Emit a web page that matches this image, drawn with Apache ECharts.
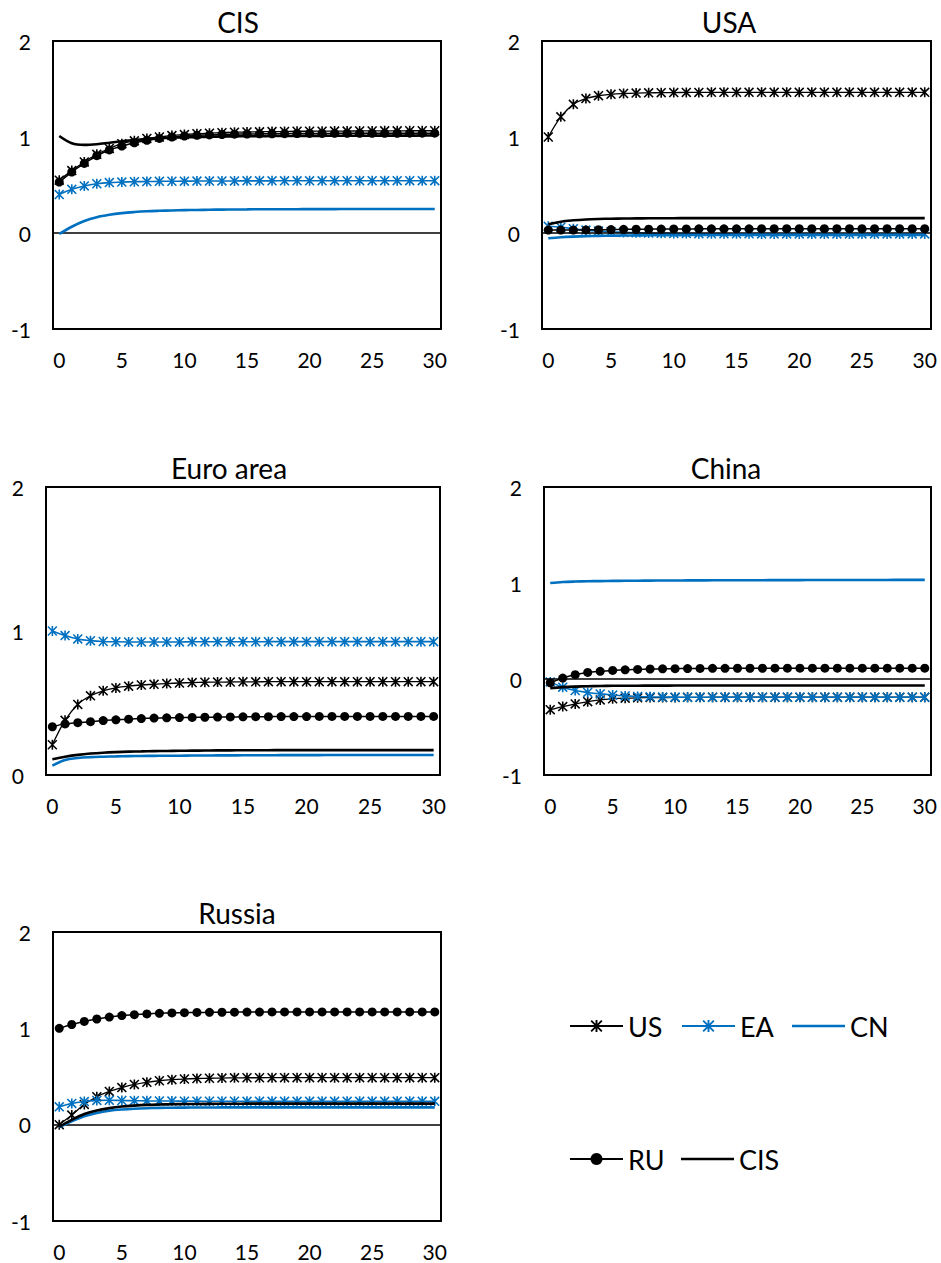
<!DOCTYPE html>
<html>
<head>
<meta charset="utf-8">
<script src="https://cdn.jsdelivr.net/npm/echarts@6/dist/echarts.min.js"></script>
<style>
  html, body { margin: 0; padding: 0; background: #fff; }
  #chart { width: 941px; height: 1263px; }
</style>
</head>
<body>
<div id="chart"></div>
<script>
// Horizons 0..30
const periods = ['0','1','2','3','4','5','6','7','8','9',
                 '10','11','12','13','14','15','16','17','18','19',
                 '20','21','22','23','24','25','26','27','28','29','30'];

// Responses in the CIS panel
const cisUS = [0.55, 0.65, 0.74, 0.82, 0.88, 0.93, 0.96, 0.985, 1.0, 1.015,
               1.025, 1.035, 1.04, 1.045, 1.05, 1.052, 1.054, 1.056, 1.058, 1.06,
               1.06, 1.061, 1.062, 1.062, 1.063, 1.063, 1.064, 1.064, 1.065, 1.065, 1.065];
const cisEA = [0.40, 0.455, 0.49, 0.513, 0.525, 0.53, 0.534, 0.536, 0.538, 0.539,
               0.54, 0.541, 0.541, 0.542, 0.542, 0.543, 0.543, 0.543, 0.544, 0.544,
               0.544, 0.544, 0.545, 0.545, 0.545, 0.545, 0.545, 0.545, 0.545, 0.545, 0.545];
const cisCN = [-0.01, 0.065, 0.125, 0.165, 0.19, 0.207, 0.218, 0.226, 0.231, 0.235,
               0.238, 0.24, 0.242, 0.244, 0.245, 0.246, 0.247, 0.247, 0.248, 0.248,
               0.249, 0.249, 0.249, 0.25, 0.25, 0.25, 0.25, 0.25, 0.25, 0.25, 0.25];
const cisRU = [0.53, 0.635, 0.725, 0.805, 0.865, 0.905, 0.94, 0.965, 0.985, 1.0,
               1.01, 1.017, 1.022, 1.026, 1.029, 1.031, 1.033, 1.034, 1.035, 1.036,
               1.037, 1.037, 1.038, 1.038, 1.038, 1.039, 1.039, 1.039, 1.04, 1.04, 1.04];
const cisCIS = [1.01, 0.935, 0.918, 0.925, 0.94, 0.955, 0.968, 0.978, 0.986, 0.992,
                0.997, 1.0, 1.003, 1.005, 1.007, 1.008, 1.009, 1.01, 1.011, 1.011,
                1.012, 1.012, 1.013, 1.013, 1.013, 1.014, 1.014, 1.014, 1.014, 1.015, 1.015];

// Responses in the USA panel
const usaUS = [1.0, 1.21, 1.34, 1.40, 1.43, 1.445, 1.453, 1.458, 1.46, 1.462,
               1.463, 1.464, 1.464, 1.465, 1.465, 1.465, 1.465, 1.465, 1.465, 1.465,
               1.465, 1.465, 1.465, 1.465, 1.465, 1.465, 1.465, 1.465, 1.465, 1.465, 1.465];
const usaEA = [0.07, 0.06, 0.045, 0.03, 0.02, 0.012, 0.006, 0.002, -0.001, -0.003,
               -0.005, -0.006, -0.007, -0.008, -0.008, -0.009, -0.009, -0.01, -0.01, -0.01,
               -0.01, -0.01, -0.01, -0.01, -0.01, -0.01, -0.01, -0.01, -0.01, -0.01, -0.01];
const usaCN = [-0.055, -0.045, -0.038, -0.033, -0.03, -0.028, -0.026, -0.025, -0.024, -0.023,
               -0.022, -0.022, -0.021, -0.021, -0.021, -0.02, -0.02, -0.02, -0.02, -0.02,
               -0.02, -0.02, -0.02, -0.02, -0.02, -0.02, -0.02, -0.02, -0.02, -0.02, -0.02];
const usaRU = [0.03, 0.03, 0.031, 0.032, 0.034, 0.036, 0.038, 0.039, 0.04, 0.041,
               0.042, 0.042, 0.043, 0.043, 0.044, 0.044, 0.044, 0.045, 0.045, 0.045,
               0.045, 0.045, 0.045, 0.045, 0.045, 0.045, 0.045, 0.045, 0.045, 0.045, 0.045];
const usaCIS = [0.09, 0.118, 0.132, 0.141, 0.146, 0.149, 0.151, 0.152, 0.153, 0.154,
                0.154, 0.155, 0.155, 0.155, 0.155, 0.155, 0.155, 0.155, 0.155, 0.155,
                0.155, 0.155, 0.155, 0.155, 0.155, 0.155, 0.155, 0.155, 0.155, 0.155, 0.155];

// Responses in the Euro area panel
const eaUS = [0.21, 0.38, 0.49, 0.55, 0.585, 0.605, 0.617, 0.625, 0.63, 0.635,
              0.639, 0.642, 0.644, 0.645, 0.646, 0.647, 0.647, 0.648, 0.648, 0.648,
              0.648, 0.648, 0.648, 0.648, 0.648, 0.648, 0.648, 0.648, 0.648, 0.648, 0.648];
const eaEA = [1.0, 0.968, 0.945, 0.933, 0.927, 0.925, 0.924, 0.924, 0.924, 0.924,
              0.924, 0.925, 0.925, 0.925, 0.925, 0.925, 0.925, 0.926, 0.926, 0.926,
              0.926, 0.926, 0.926, 0.926, 0.926, 0.926, 0.926, 0.926, 0.926, 0.926, 0.926];
const eaCN = [0.065, 0.104, 0.118, 0.124, 0.127, 0.129, 0.131, 0.132, 0.133, 0.134,
              0.134, 0.135, 0.135, 0.136, 0.136, 0.137, 0.137, 0.137, 0.138, 0.138,
              0.138, 0.138, 0.139, 0.139, 0.139, 0.139, 0.139, 0.139, 0.139, 0.139, 0.139];
const eaRU = [0.335, 0.355, 0.363, 0.37, 0.378, 0.383, 0.388, 0.392, 0.395, 0.397,
              0.399, 0.4, 0.401, 0.402, 0.403, 0.404, 0.405, 0.405, 0.406, 0.406,
              0.406, 0.407, 0.407, 0.407, 0.407, 0.407, 0.407, 0.407, 0.407, 0.407, 0.407];
const eaCIS = [0.11, 0.127, 0.14, 0.149, 0.155, 0.159, 0.162, 0.164, 0.166, 0.167,
               0.168, 0.169, 0.17, 0.171, 0.171, 0.172, 0.172, 0.172, 0.173, 0.173,
               0.173, 0.173, 0.173, 0.173, 0.173, 0.173, 0.173, 0.173, 0.173, 0.173, 0.173];

// Responses in the China panel
const cnUS = [-0.32, -0.287, -0.26, -0.236, -0.218, -0.207, -0.2, -0.196, -0.194, -0.193,
              -0.192, -0.191, -0.191, -0.19, -0.19, -0.19, -0.19, -0.19, -0.19, -0.19,
              -0.19, -0.19, -0.19, -0.19, -0.19, -0.19, -0.19, -0.19, -0.19, -0.19, -0.19];
const cnEA = [-0.03, -0.085, -0.12, -0.14, -0.155, -0.167, -0.176, -0.182, -0.186, -0.188,
              -0.189, -0.19, -0.19, -0.19, -0.19, -0.19, -0.19, -0.19, -0.19, -0.19,
              -0.19, -0.19, -0.19, -0.19, -0.19, -0.19, -0.19, -0.19, -0.19, -0.19, -0.19];
const cnCN = [1.0, 1.01, 1.015, 1.018, 1.02, 1.022, 1.023, 1.024, 1.025, 1.026,
              1.026, 1.027, 1.027, 1.028, 1.028, 1.029, 1.029, 1.029, 1.03, 1.03,
              1.03, 1.031, 1.031, 1.031, 1.032, 1.032, 1.032, 1.032, 1.033, 1.033, 1.033];
const cnRU = [-0.04, 0.01, 0.045, 0.068, 0.08, 0.089, 0.096, 0.1, 0.104, 0.106,
              0.108, 0.109, 0.11, 0.111, 0.111, 0.112, 0.112, 0.112, 0.113, 0.113,
              0.113, 0.113, 0.113, 0.113, 0.113, 0.113, 0.113, 0.113, 0.113, 0.113, 0.113];
const cnCIS = [-0.095, -0.085, -0.079, -0.075, -0.073, -0.071, -0.07, -0.07, -0.069, -0.069,
               -0.068, -0.068, -0.068, -0.068, -0.068, -0.068, -0.068, -0.068, -0.068, -0.068,
               -0.068, -0.068, -0.068, -0.068, -0.068, -0.068, -0.068, -0.068, -0.068, -0.068, -0.068];

// Responses in the Russia panel
const ruUS = [0.0, 0.1, 0.21, 0.29, 0.345, 0.385, 0.418, 0.44, 0.456, 0.467,
              0.474, 0.479, 0.482, 0.484, 0.486, 0.487, 0.487, 0.488, 0.488, 0.488,
              0.488, 0.488, 0.488, 0.488, 0.488, 0.488, 0.488, 0.488, 0.488, 0.488, 0.488];
const ruEA = [0.185, 0.22, 0.24, 0.252, 0.253, 0.251, 0.249, 0.247, 0.246, 0.245,
              0.244, 0.244, 0.243, 0.243, 0.243, 0.242, 0.242, 0.242, 0.242, 0.242,
              0.242, 0.242, 0.242, 0.242, 0.242, 0.242, 0.242, 0.242, 0.242, 0.242, 0.242];
const ruCN = [-0.025, 0.035, 0.088, 0.122, 0.145, 0.158, 0.166, 0.171, 0.174, 0.176,
              0.177, 0.178, 0.178, 0.179, 0.179, 0.179, 0.18, 0.18, 0.18, 0.18,
              0.18, 0.18, 0.18, 0.18, 0.18, 0.18, 0.18, 0.18, 0.18, 0.18, 0.18];
const ruRU = [1.0, 1.04, 1.072, 1.097, 1.117, 1.132, 1.142, 1.15, 1.156, 1.16,
              1.163, 1.165, 1.166, 1.167, 1.168, 1.169, 1.169, 1.17, 1.17, 1.17,
              1.17, 1.17, 1.17, 1.17, 1.17, 1.17, 1.17, 1.17, 1.17, 1.17, 1.17];
const ruCIS = [-0.02, 0.05, 0.11, 0.148, 0.172, 0.188, 0.198, 0.205, 0.209, 0.212,
               0.214, 0.215, 0.216, 0.217, 0.217, 0.218, 0.218, 0.218, 0.218, 0.218,
               0.218, 0.218, 0.218, 0.218, 0.218, 0.218, 0.218, 0.218, 0.218, 0.218, 0.218];

const seriesNames = ['US', 'EA', 'CN', 'RU', 'CIS'];
const panelTitles = ['CIS', 'USA', 'Euro area', 'China', 'Russia'];
const panelData = [
  [cisUS, cisEA, cisCN, cisRU, cisCIS],
  [usaUS, usaEA, usaCN, usaRU, usaCIS],
  [eaUS, eaEA, eaCN, eaRU, eaCIS],
  [cnUS, cnEA, cnCN, cnRU, cnCIS],
  [ruUS, ruEA, ruCN, ruRU, ruCIS]
];
const yRanges = [[-1, 2], [-1, 2], [0, 2], [-1, 2], [-1, 2]];

// ---- layout & styling ----
const FONT = 'Lato';
const BLUE = '#0070C0';
const grids = [
  { left: 53,  top: 41,  width: 388, height: 288 },
  { left: 542, top: 41,  width: 389, height: 288 },
  { left: 46,  top: 487, width: 394, height: 288 },
  { left: 544, top: 487, width: 387, height: 288 },
  { left: 53,  top: 932, width: 388, height: 289 }
];
const titlePos = [[238, 22], [729, 22], [229, 468], [726, 468], [237, 913]];

// six-armed star marker (vertical bar + two diagonals)
const STAR = 'path://M4.2 0L5.8 0L5.8 10L4.2 10Z M0 1.1L1.1 0L10 8.9L8.9 10Z M10 1.1L1.1 10L0 8.9L8.9 0Z';

const styles = {
  US:  { color: '#000', width: 1.3, symbol: STAR, size: 10 },
  EA:  { color: BLUE,   width: 1.6, symbol: STAR, size: 10 },
  CN:  { color: BLUE,   width: 2.6, symbol: 'none', size: 0 },
  RU:  { color: '#000', width: 1.5, symbol: 'circle', size: 9 },
  CIS: { color: '#000', width: 2.6, symbol: 'none', size: 0 }
};

const xAxes = [], yAxes = [], series = [], graphics = [];
grids.forEach((g, i) => {
  xAxes.push({
    type: 'category', gridIndex: i, data: periods, boundaryGap: true,
    axisLine: { show: false }, axisTick: { show: false }, splitLine: { show: false },
    axisLabel: { interval: 4, margin: 20, fontFamily: FONT, fontSize: 21, color: '#000' }
  });
  yAxes.push({
    type: 'value', gridIndex: i, min: yRanges[i][0], max: yRanges[i][1], interval: 1,
    axisLine: { show: false }, axisTick: { show: false }, splitLine: { show: false },
    axisLabel: { margin: 22, fontFamily: FONT, fontSize: 21, color: '#000' }
  });
  seriesNames.forEach((name, k) => {
    const st = styles[name];
    const hasMarker = st.symbol !== 'none';
    const s = {
      type: 'line', name, xAxisIndex: i, yAxisIndex: i,
      data: panelData[i][k], smooth: 0.35,
      symbol: st.symbol, symbolSize: st.size,
      showSymbol: hasMarker, showAllSymbol: true,
      lineStyle: { color: st.color, width: st.width },
      itemStyle: { color: st.color, borderWidth: 0 },
      emphasis: { disabled: true }, z: 3 + k
    };
    if (k === 0) {
      // horizontal axis line at zero
      s.markLine = {
        silent: true, symbol: 'none', label: { show: false }, animation: false,
        lineStyle: { color: '#000', width: 1.5, type: 'solid' },
        data: [{ yAxis: 0 }]
      };
    }
    series.push(s);
  });
  graphics.push({
    type: 'text', x: titlePos[i][0], y: titlePos[i][1],
    style: { text: panelTitles[i], fill: '#000', font: '28px ' + FONT,
             textAlign: 'center', textVerticalAlign: 'middle' }
  });
});

const legendText = { fontFamily: FONT, fontSize: 27, color: '#000', lineHeight: 30 };
// key entries: [name, left, top, plain line?]
const legendPlaces = [
  ['US', 569, 1011, false], ['EA', 681, 1011, false], ['CN', 792, 1011, true],
  ['RU', 569, 1144, false], ['CIS', 681, 1144, true]
];
const legends = legendPlaces.map(([n, l, t, plain]) => {
  const st = styles[n];
  return {
    orient: 'horizontal', padding: 0, itemGap: 0, itemWidth: 53,
    itemHeight: plain ? st.width : 15,
    selectedMode: false, left: l, top: t,
    textStyle: legendText,
    data: plain ? [{ name: n, icon: 'rect', itemStyle: { color: st.color } }] : [n]
  };
});

const chart = echarts.init(document.getElementById('chart'), null, { renderer: 'svg' });
chart.setOption({
  backgroundColor: '#fff',
  animation: false,
  grid: grids.map(g => Object.assign({ show: true, borderColor: '#000', borderWidth: 2,
                                       backgroundColor: 'transparent', containLabel: false }, g)),
  xAxis: xAxes,
  yAxis: yAxes,
  legend: legends,
  series: series,
  graphic: graphics
});
</script>
</body>
</html>
